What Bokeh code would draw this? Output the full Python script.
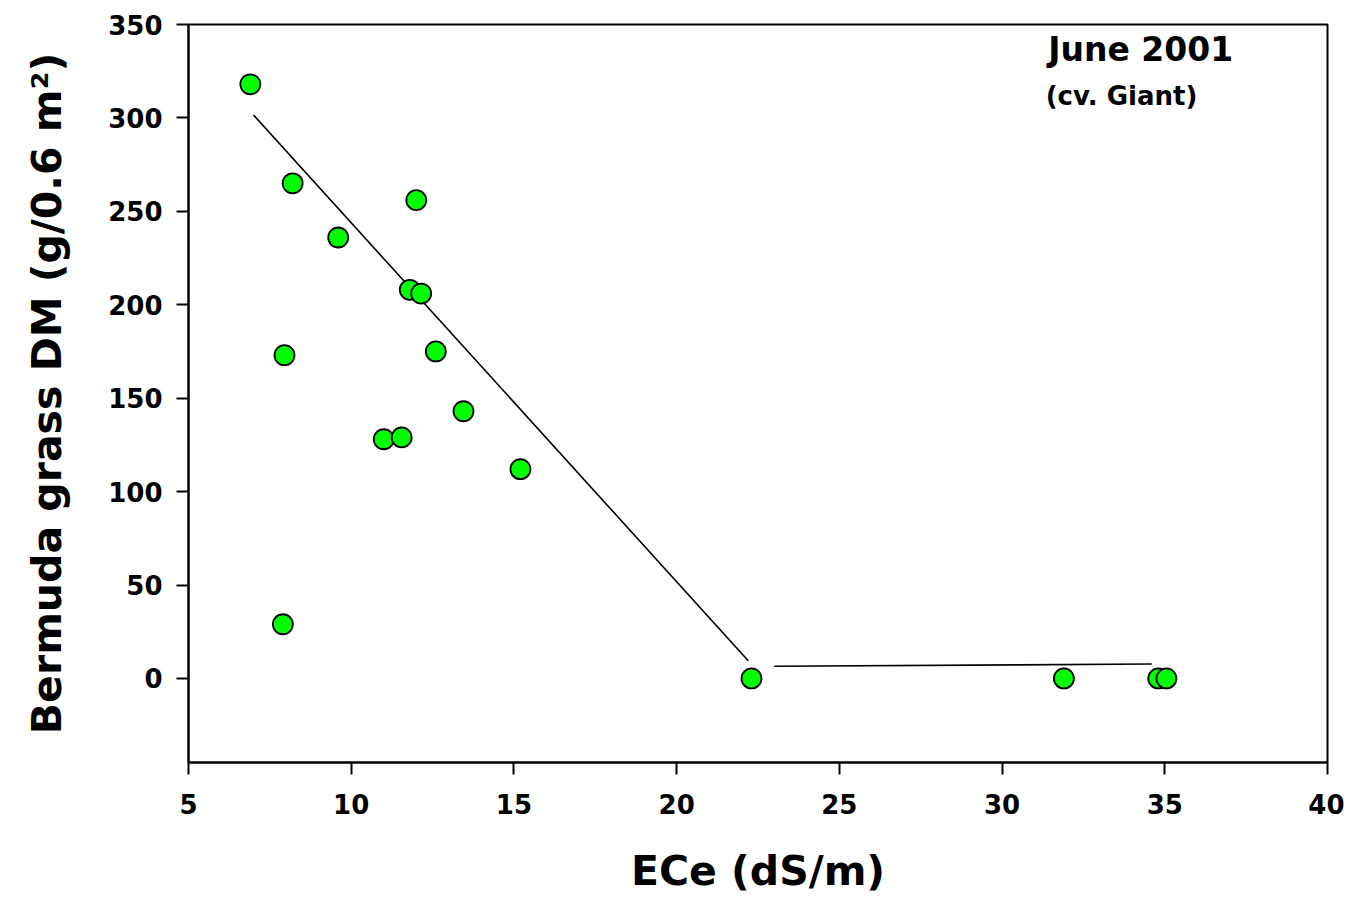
from bokeh.plotting import figure
from bokeh.models import Range1d, FixedTicker, Label
from bokeh.embed import file_html
from bokeh.resources import INLINE

# Data
ece = [6.9, 8.2, 9.6, 12.0, 11.8, 12.15, 12.6, 7.95, 11.0, 11.55,
       13.45, 15.2, 7.9, 22.3, 31.9, 34.8, 35.05]
dm = [318, 265, 236, 256, 208, 206, 175, 173, 128, 129,
      143, 112, 29, 0, 0, 0, 0]

# Fitted piecewise line (two segments)
fit1_x = [7.0, 22.2]
fit1_y = [301.5, 9.5]
fit2_x = [23.0, 34.6]
fit2_y = [6.5, 7.7]

x_ticks = [5, 10, 15, 20, 25, 30, 35, 40]
y_ticks = [0, 50, 100, 150, 200, 250, 300, 350]

FONT = "DejaVu Sans"

p = figure(width=1344, height=897, output_backend="svg", toolbar_location=None,
           x_range=Range1d(5, 40), y_range=Range1d(-45, 350),
           min_border_left=188, min_border_right=17, min_border_top=24,
           min_border_bottom=135)

p.xgrid.visible = False
p.ygrid.visible = False
p.outline_line_color = "black"
p.outline_line_width = 2
p.background_fill_color = "white"
p.border_fill_color = "white"

for ax, ticks in ((p.xaxis[0], x_ticks), (p.yaxis[0], y_ticks)):
    ax.ticker = FixedTicker(ticks=ticks)
    ax.axis_line_width = 2
    ax.axis_line_color = "black"
    ax.major_tick_line_width = 2
    ax.major_tick_line_color = "black"
    ax.major_tick_in = 0
    ax.major_tick_out = 12
    ax.minor_tick_line_color = None
    ax.major_label_text_font = FONT
    ax.major_label_text_font_style = "bold"
    ax.major_label_text_font_size = "26px"
    ax.major_label_text_color = "black"
    ax.major_label_standoff = 14
    ax.axis_label_text_font = FONT
    ax.axis_label_text_font_style = "bold"
    ax.axis_label_text_color = "black"

p.xaxis.major_label_standoff = 19
p.xaxis.axis_label = "ECe (dS/m)"
p.xaxis.axis_label_text_font_size = "41px"
p.xaxis.axis_label_standoff = 30
p.yaxis.axis_label = "Bermuda grass DM (g/0.6 m²)"
p.yaxis.axis_label_text_font_size = "41px"
p.yaxis.axis_label_standoff = 34

p.line(fit1_x, fit1_y, line_color="black", line_width=1.6)
p.line(fit2_x, fit2_y, line_color="black", line_width=1.6)

p.scatter(ece, dm, size=20, marker="circle", fill_color="#00FF00",
          line_color="black", line_width=1.8)

p.add_layout(Label(x=34.26, y=336.5, text="June 2001", text_align="center",
                   text_baseline="alphabetic", text_font=FONT,
                   text_font_style="bold", text_font_size="33px",
                   text_color="black"))
p.add_layout(Label(x=33.67, y=311.5, text="(cv. Giant)", text_align="center",
                   text_baseline="alphabetic", text_font=FONT,
                   text_font_style="bold", text_font_size="26px",
                   text_color="black"))

open("out.html", "w").write(file_html(p, INLINE))
